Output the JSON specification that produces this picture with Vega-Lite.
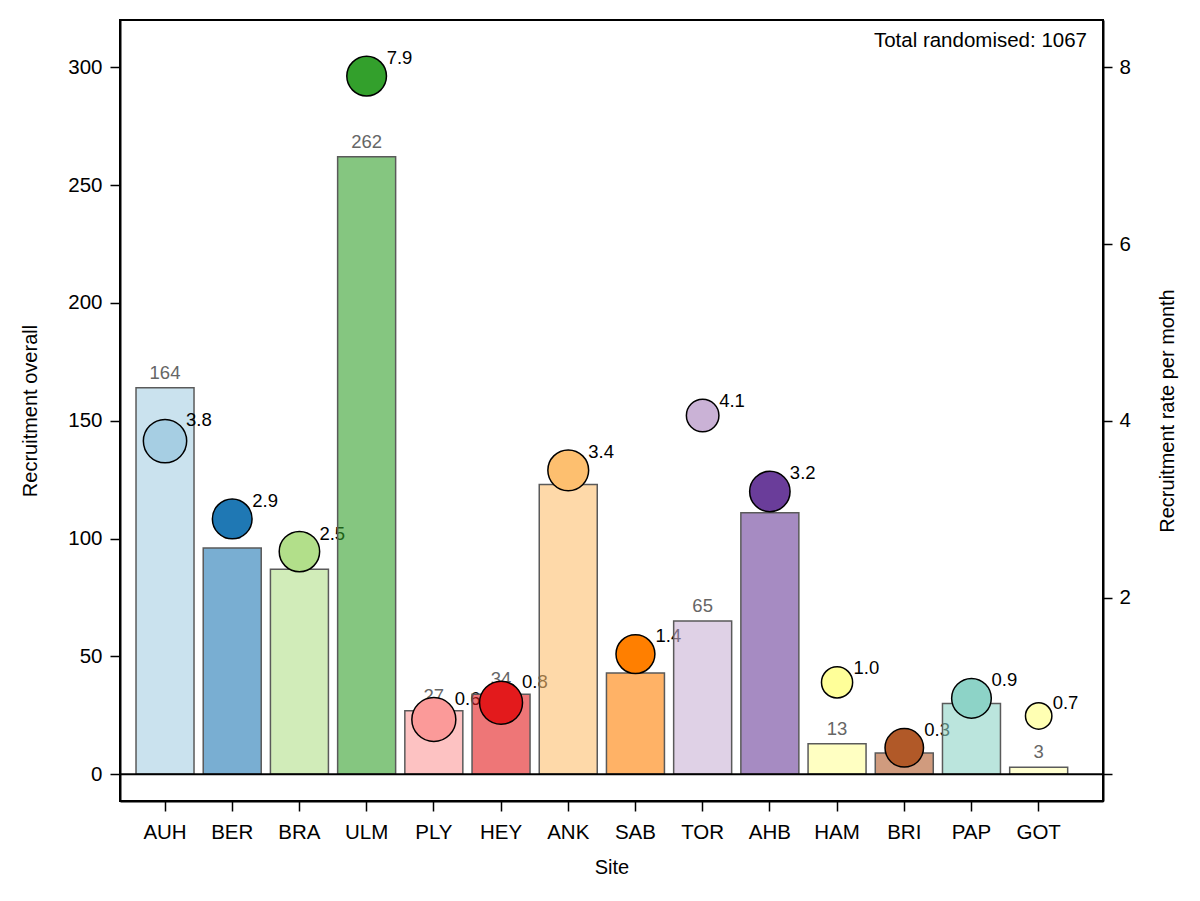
{
  "$schema": "https://vega.github.io/schema/vega-lite/v6.json",
  "width": 983,
  "height": 781,
  "autosize": {"type": "none"},
  "padding": {"left": 120, "top": 20, "right": 97, "bottom": 100},
  "background": "white",
  "title": {
    "text": "Total randomised: 1067",
    "orient": "top",
    "anchor": "end",
    "frame": "group",
    "baseline": "alphabetic",
    "offset": -47,
    "dx": -16,
    "font": "Liberation Sans",
    "fontSize": 20.5,
    "fontWeight": "normal",
    "color": "black"
  },
  "data": {
    "values": [
      {"site": "AUH", "n": 164, "rate": 3.77, "months": 43},
      {"site": "BER", "n": 96, "rate": 2.89, "months": 33},
      {"site": "BRA", "n": 87, "rate": 2.52, "months": 35},
      {"site": "ULM", "n": 262, "rate": 7.9, "months": 33},
      {"site": "PLY", "n": 27, "rate": 0.62, "months": 45},
      {"site": "HEY", "n": 34, "rate": 0.81, "months": 42},
      {"site": "ANK", "n": 123, "rate": 3.44, "months": 36},
      {"site": "SAB", "n": 43, "rate": 1.36, "months": 31},
      {"site": "TOR", "n": 65, "rate": 4.06, "months": 16},
      {"site": "AHB", "n": 111, "rate": 3.2, "months": 35},
      {"site": "HAM", "n": 13, "rate": 1.04, "months": 13},
      {"site": "BRI", "n": 9, "rate": 0.3, "months": 30},
      {"site": "PAP", "n": 30, "rate": 0.86, "months": 33},
      {"site": "GOT", "n": 3, "rate": 0.66, "months": 4}
    ]
  },
  "layer": [
    {
      "transform": [{"filter": "indexof(['BRA', 'PLY', 'HEY', 'SAB', 'BRI'], datum.site) >= 0"}],
      "encoding": {
        "x": {
          "field": "site",
          "type": "nominal",
          "title": "Site",
          "sort": null,
          "scale": {
            "domain": ["AUH", "BER", "BRA", "ULM", "PLY", "HEY", "ANK", "SAB", "TOR", "AHB", "HAM", "BRI", "PAP", "GOT"],
            "paddingInner": 0.137,
            "paddingOuter": 0.382,
            "align": 0.312
          },
          "axis": {"labelAngle": 0, "labelPadding": 11, "titlePadding": 15, "tickSize": 10}
        },
        "y": {
          "field": "rate",
          "type": "quantitative",
          "scale": {"domain": [-0.302, 8.535], "nice": false},
          "axis": null
        },
        "text": {"field": "rate", "type": "quantitative", "format": ".1f"}
      },
      "layer": [
        {
          "transform": [{"filter": "datum.months >= 40"}],
          "mark": {"type": "text", "align": "left", "baseline": "middle", "dx": 21, "dy": -21, "font": "Liberation Sans", "fontSize": 18.5, "color": "black"}
        },
        {
          "transform": [{"filter": "datum.months < 40"}],
          "mark": {"type": "text", "align": "left", "baseline": "middle", "dx": 20, "dy": -18, "font": "Liberation Sans", "fontSize": 18.5, "color": "black"}
        }
      ]
    },
    {
      "layer": [
        {
          "mark": {"type": "bar", "fillOpacity": 0.6, "stroke": "#5a5a5a", "strokeWidth": 1.5},
          "encoding": {
            "x": {
              "field": "site",
              "type": "nominal",
              "title": "Site",
              "sort": null,
              "scale": {
                "domain": ["AUH", "BER", "BRA", "ULM", "PLY", "HEY", "ANK", "SAB", "TOR", "AHB", "HAM", "BRI", "PAP", "GOT"],
                "paddingInner": 0.137,
                "paddingOuter": 0.382,
                "align": 0.312
              },
              "axis": {"labelAngle": 0, "labelPadding": 11, "titlePadding": 15, "tickSize": 10}
            },
            "y": {
              "field": "n",
              "type": "quantitative",
              "title": "Recruitment overall",
              "scale": {"domain": [-11.33, 320.07], "nice": false},
              "axis": {"orient": "left", "values": [0, 50, 100, 150, 200, 250, 300], "tickSize": 10, "labelPadding": 8, "titlePadding": 27}
            },
            "color": {
              "field": "site",
              "type": "nominal",
              "scale": {
                "domain": ["AUH", "BER", "BRA", "ULM", "PLY", "HEY", "ANK", "SAB", "TOR", "AHB", "HAM", "BRI", "PAP", "GOT"],
                "range": ["#a6cee3", "#1f78b4", "#b2df8a", "#33a02c", "#fb9a99", "#e31a1c", "#fdbf6f", "#ff7f00", "#cab2d6", "#6a3d9a", "#ffff99", "#b15928", "#8dd3c7", "#ffffb3"]
              },
              "legend": null
            }
          }
        },
        {
          "mark": {"type": "text", "baseline": "bottom", "dy": -5, "font": "Liberation Sans", "fontSize": 18.5, "color": "#666666"},
          "encoding": {
            "x": {"field": "site", "type": "nominal", "sort": null, "title": "Site"},
            "y": {"field": "n", "type": "quantitative", "title": "Recruitment overall"},
            "text": {"field": "n", "type": "quantitative"}
          }
        },
        {
          "data": {"values": [{"zero": 0}]},
          "mark": {"type": "rule", "color": "black", "strokeWidth": 2},
          "encoding": {
            "y": {"field": "zero", "type": "quantitative", "title": "Recruitment overall"}
          }
        }
      ]
    },
    {
      "layer": [
        {
          "mark": {"type": "circle", "opacity": 1, "stroke": "black", "strokeWidth": 1.5},
          "encoding": {
            "x": {"field": "site", "type": "nominal", "sort": null, "title": "Site"},
            "y": {
              "field": "rate",
              "type": "quantitative",
              "title": "Recruitment rate per month",
              "scale": {"domain": [-0.302, 8.535], "nice": false},
              "axis": {
                "orient": "right",
                "values": [0, 2, 4, 6, 8],
                "format": "d",
                "labelExpr": "datum.value == 0 ? '' : datum.label",
                "tickSize": 9,
                "labelPadding": 7,
                "titlePadding": 27,
                "titleAngle": 270,
                "titleBaseline": "top"
              }
            },
            "color": {"field": "site", "type": "nominal", "legend": null},
            "size": {
              "field": "months",
              "type": "quantitative",
              "scale": {"type": "linear", "domain": [0, 45], "range": [576, 1936]},
              "legend": null
            }
          }
        },
        {
          "transform": [{"filter": "datum.months >= 40 && indexof(['BRA', 'PLY', 'HEY', 'SAB', 'BRI'], datum.site) < 0"}],
          "mark": {"type": "text", "align": "left", "baseline": "middle", "dx": 21, "dy": -21, "font": "Liberation Sans", "fontSize": 18.5, "color": "black"},
          "encoding": {
            "x": {"field": "site", "type": "nominal", "sort": null, "title": "Site"},
            "y": {"field": "rate", "type": "quantitative", "title": "Recruitment rate per month"},
            "text": {"field": "rate", "type": "quantitative", "format": ".1f"}
          }
        },
        {
          "transform": [{"filter": "datum.months >= 20 && datum.months < 40 && indexof(['BRA', 'PLY', 'HEY', 'SAB', 'BRI'], datum.site) < 0"}],
          "mark": {"type": "text", "align": "left", "baseline": "middle", "dx": 20, "dy": -18, "font": "Liberation Sans", "fontSize": 18.5, "color": "black"},
          "encoding": {
            "x": {"field": "site", "type": "nominal", "sort": null, "title": "Site"},
            "y": {"field": "rate", "type": "quantitative", "title": "Recruitment rate per month"},
            "text": {"field": "rate", "type": "quantitative", "format": ".1f"}
          }
        },
        {
          "transform": [{"filter": "datum.months >= 10 && datum.months < 20"}],
          "mark": {"type": "text", "align": "left", "baseline": "middle", "dx": 16.5, "dy": -14.5, "font": "Liberation Sans", "fontSize": 18.5, "color": "black"},
          "encoding": {
            "x": {"field": "site", "type": "nominal", "sort": null, "title": "Site"},
            "y": {"field": "rate", "type": "quantitative", "title": "Recruitment rate per month"},
            "text": {"field": "rate", "type": "quantitative", "format": ".1f"}
          }
        },
        {
          "transform": [{"filter": "datum.months < 10"}],
          "mark": {"type": "text", "align": "left", "baseline": "middle", "dx": 14, "dy": -13, "font": "Liberation Sans", "fontSize": 18.5, "color": "black"},
          "encoding": {
            "x": {"field": "site", "type": "nominal", "sort": null, "title": "Site"},
            "y": {"field": "rate", "type": "quantitative", "title": "Recruitment rate per month"},
            "text": {"field": "rate", "type": "quantitative", "format": ".1f"}
          }
        }
      ]
    }
  ],
  "resolve": {"scale": {"y": "independent"}, "axis": {"y": "independent"}},
  "config": {
    "view": {"stroke": "black", "strokeWidth": 2},
    "axis": {
      "grid": false,
      "labelFont": "Liberation Sans",
      "titleFont": "Liberation Sans",
      "labelFontSize": 20.5,
      "titleFontSize": 20,
      "titleFontWeight": "normal",
      "labelColor": "black",
      "titleColor": "black",
      "tickColor": "black",
      "domainColor": "black",
      "tickWidth": 1.5,
      "domainWidth": 2
    }
  }
}
